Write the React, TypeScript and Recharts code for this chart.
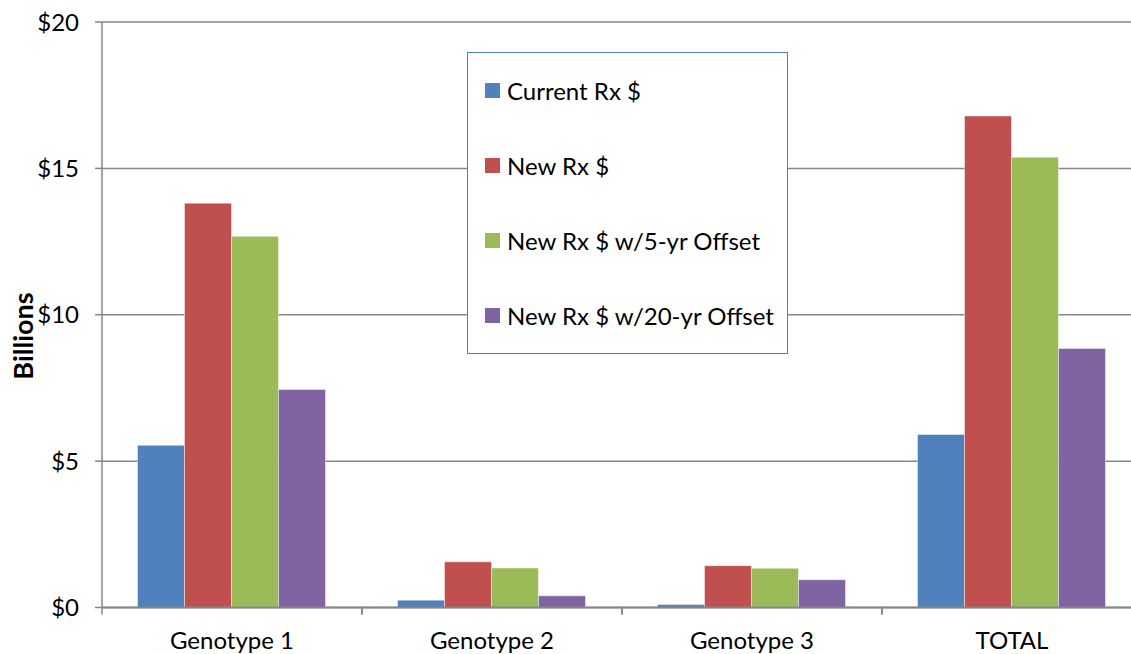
import React from 'react';
import { BarChart, Bar, XAxis, YAxis, CartesianGrid, Legend } from 'recharts';

const categories = ['Genotype 1', 'Genotype 2', 'Genotype 3', 'TOTAL'];
const currentRx = [5.54, 0.25, 0.1, 5.91];
const newRx = [13.81, 1.56, 1.43, 16.79];
const newRx5yr = [12.68, 1.35, 1.34, 15.38];
const newRx20yr = [7.45, 0.4, 0.95, 8.85];
const yTicks = [0, 5, 10, 15, 20];
const seriesNames = ['Current Rx $', 'New Rx $', 'New Rx $ w/5-yr Offset', 'New Rx $ w/20-yr Offset'];
const seriesColors = ['#4F81BD', '#C0504D', '#9BBB59', '#8064A2'];
const yAxisTitle = 'Billions';

const data = categories.map((name, i) => ({
  name,
  s0: currentRx[i],
  s1: newRx[i],
  s2: newRx5yr[i],
  s3: newRx20yr[i],
}));

const FONT = 'Lato, "Open Sans", sans-serif';
const AXIS = '#868686';

const renderLegend = () => (
  <div
    style={{
      width: 321,
      height: 302,
      boxSizing: 'border-box',
      border: '1.5px solid #4F81BD',
      background: '#fff',
      display: 'flex',
      flexDirection: 'column',
      justifyContent: 'space-around',
      paddingLeft: 17,
      fontFamily: FONT,
      fontSize: 24,
      color: '#000',
    }}
  >
    {seriesNames.map((n, i) => (
      <div key={n} style={{ display: 'flex', alignItems: 'center' }}>
        <span style={{ width: 15, height: 15, background: seriesColors[i], display: 'inline-block', marginRight: 7 }} />
        <span>{n}</span>
      </div>
    ))}
  </div>
);

const CategoryTick = (props: any) => {
  const { x, y, payload, width, visibleTicksCount } = props;
  const band = width / (visibleTicksCount || categories.length);
  const axisY = y - 24;
  return (
    <g>
      <line x1={x - band / 2} x2={x - band / 2} y1={axisY} y2={axisY + 7} stroke={AXIS} strokeWidth={1.5} />
      <line x1={x + band / 2} x2={x + band / 2} y1={axisY} y2={axisY + 7} stroke={AXIS} strokeWidth={1.5} />
      <text x={x} y={y} dy="0.71em" textAnchor="middle" fill="#000" fontSize={24} fontFamily={FONT}>
        {payload.value}
      </text>
    </g>
  );
};

export default function App() {
  return (
    <div style={{ position: 'absolute', left: 0, top: 0, width: 1131, height: 654, overflow: 'hidden', background: '#fff' }}>
      <BarChart
        width={1142}
        height={654}
        data={data}
        margin={{ top: 22, right: 0, bottom: 0, left: 0 }}
        barCategoryGap="13.65%"
        barGap={0}
      >
        <CartesianGrid vertical={false} stroke={AXIS} strokeWidth={1.5} />
        <XAxis
          dataKey="name"
          height={46.5}
          tickLine={false}
          tickSize={0}
          tickMargin={24}
          axisLine={{ stroke: AXIS, strokeWidth: 2 }}
          tick={<CategoryTick />}
          interval={0}
        />
        <YAxis
          width={102}
          domain={[0, 20]}
          ticks={yTicks}
          tickFormatter={(v: number) => `$${v}`}
          tickSize={7}
          tickMargin={16}
          axisLine={{ stroke: AXIS, strokeWidth: 1.5 }}
          tickLine={{ stroke: AXIS, strokeWidth: 1.5 }}
          tick={{ fill: '#000', fontSize: 24, fontFamily: FONT }}
        />
        <Legend
          layout="vertical"
          align="center"
          verticalAlign="middle"
          content={renderLegend}
          wrapperStyle={{ left: 467, top: 52, width: 321, height: 302 }}
        />
        {seriesNames.map((n, i) => (
          <Bar
            key={n}
            dataKey={`s${i}`}
            name={n}
            fill={seriesColors[i]}
            stroke="rgba(255,255,255,0.45)"
            strokeWidth={1}
            isAnimationActive={false}
          />
        ))}
      </BarChart>
      <div
        style={{
          position: 'absolute',
          left: 22,
          top: 336,
          transform: 'translate(-50%, -50%) rotate(-90deg)',
          fontFamily: FONT,
          fontSize: 27,
          fontWeight: 700,
          color: '#000',
          whiteSpace: 'nowrap',
          lineHeight: 1,
        }}
      >
        {yAxisTitle}
      </div>
    </div>
  );
}
